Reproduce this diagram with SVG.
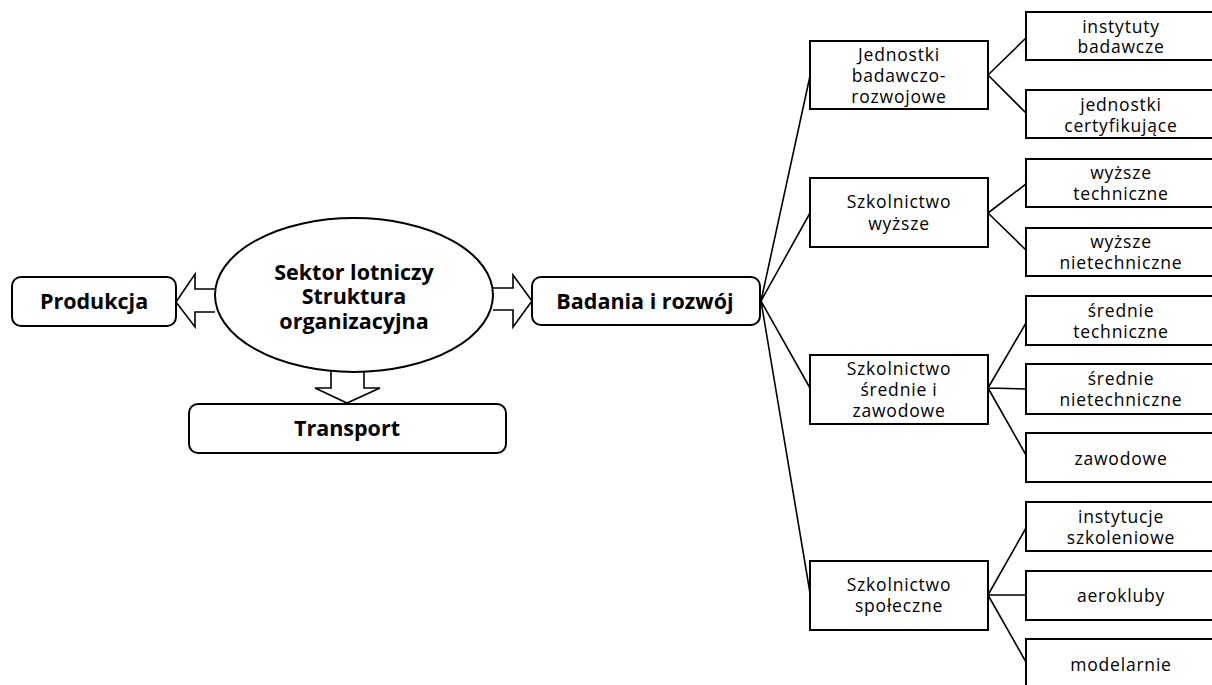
<svg xmlns="http://www.w3.org/2000/svg" width="1212" height="685" viewBox="0 0 1212 685">
<style>
.bx{fill:#fff;stroke:#000;stroke-width:2}
.arr{fill:#fff;stroke:#000;stroke-width:1.6;stroke-linejoin:miter}
.ln{stroke:#000;stroke-width:1.6;fill:none}
.b{font-family:"Open Sans",sans-serif;font-weight:bold;font-size:21.5px;text-anchor:middle;fill:#000}
.t{font-family:"Open Sans",sans-serif;font-size:17.5px;letter-spacing:0.8px;text-anchor:middle;fill:#000}
</style>
<rect width="1212" height="685" fill="#fff"/>
<g id="connectors">
<path class="arr" d="M215,289 L195,289 L195,274 L176,302 L195,327 L195,312 L215,312"/>
<path class="arr" d="M493,288 L513,288 L513,275 L532,301 L513,327 L513,310 L493,310"/>
<path class="arr" d="M331,371 L331,388 L315,388 L347,403 L380,388 L364,388 L364,371"/>
<path class="ln" d="M761,301 L810,76 M761,301 L810,213 M761,301 L810,388 M761,301 L810,593"/>
<path class="ln" d="M988,75 L1026,38 M988,75 L1026,113"/>
<path class="ln" d="M988,213 L1026,184 M988,213 L1026,250"/>
<path class="ln" d="M988,388 L1026,323 M988,388 L1026,389 M988,388 L1026,455"/>
<path class="ln" d="M988,595 L1026,528 M988,595 L1026,595 M988,595 L1026,662"/>
</g>
<g id="sektor">
<ellipse class="bx" cx="354" cy="295" rx="139" ry="77"/>
<text class="b" x="354" y="280">Sektor lotniczy</text>
<text class="b" x="354" y="304">Struktura</text>
<text class="b" x="354" y="329">organizacyjna</text>
</g>
<g id="produkcja">
<rect class="bx" x="12" y="277" width="164" height="49" rx="9"/>
<text class="b" x="94" y="309">Produkcja</text>
</g>
<g id="transport">
<rect class="bx" x="189" y="404" width="317" height="49" rx="9"/>
<text class="b" x="347" y="436">Transport</text>
</g>
<g id="badania">
<rect class="bx" x="532" y="277" width="228" height="48" rx="9"/>
<text class="b" x="645" y="309">Badania i rozwój</text>
</g>
<g id="jednostki">
<rect class="bx" x="810" y="41" width="178" height="68"/>
<text class="t" x="899" y="61">Jednostki</text>
<text class="t" x="899" y="82">badawczo-</text>
<text class="t" x="899" y="103">rozwojowe</text>
</g>
<g id="szk-wyzsze">
<rect class="bx" x="810" y="178" width="178" height="69"/>
<text class="t" x="899" y="208">Szkolnictwo</text>
<text class="t" x="899" y="230">wyższe</text>
</g>
<g id="szk-srednie">
<rect class="bx" x="810" y="355" width="178" height="69"/>
<text class="t" x="899" y="375">Szkolnictwo</text>
<text class="t" x="899" y="396">średnie i</text>
<text class="t" x="899" y="417">zawodowe</text>
</g>
<g id="szk-spoleczne">
<rect class="bx" x="810" y="561" width="178" height="69"/>
<text class="t" x="899" y="591">Szkolnictwo</text>
<text class="t" x="899" y="612">społeczne</text>
</g>
<g id="instytuty">
<rect class="bx" x="1026" y="12" width="190" height="48"/>
<text class="t" x="1121" y="33">instytuty</text>
<text class="t" x="1121" y="53">badawcze</text>
</g>
<g id="certyfikujace">
<rect class="bx" x="1026" y="90" width="190" height="48"/>
<text class="t" x="1121" y="111">jednostki</text>
<text class="t" x="1121" y="132">certyfikujące</text>
</g>
<g id="wyzsze-tech">
<rect class="bx" x="1026" y="159" width="190" height="48"/>
<text class="t" x="1121" y="179">wyższe</text>
<text class="t" x="1121" y="200">techniczne</text>
</g>
<g id="wyzsze-nietech">
<rect class="bx" x="1026" y="228" width="190" height="48"/>
<text class="t" x="1121" y="248">wyższe</text>
<text class="t" x="1121" y="269">nietechniczne</text>
</g>
<g id="srednie-tech">
<rect class="bx" x="1026" y="296" width="190" height="49"/>
<text class="t" x="1121" y="317">średnie</text>
<text class="t" x="1121" y="338">techniczne</text>
</g>
<g id="srednie-nietech">
<rect class="bx" x="1026" y="364" width="190" height="50"/>
<text class="t" x="1121" y="385">średnie</text>
<text class="t" x="1121" y="406">nietechniczne</text>
</g>
<g id="zawodowe">
<rect class="bx" x="1026" y="433" width="190" height="49"/>
<text class="t" x="1121" y="465">zawodowe</text>
</g>
<g id="instytucje">
<rect class="bx" x="1026" y="502" width="190" height="49"/>
<text class="t" x="1121" y="523">instytucje</text>
<text class="t" x="1121" y="544">szkoleniowe</text>
</g>
<g id="aerokluby">
<rect class="bx" x="1026" y="571" width="190" height="49"/>
<text class="t" x="1121" y="602">aerokluby</text>
</g>
<g id="modelarnie">
<rect class="bx" x="1026" y="639" width="190" height="60"/>
<text class="t" x="1121" y="671">modelarnie</text>
</g>
</svg>
